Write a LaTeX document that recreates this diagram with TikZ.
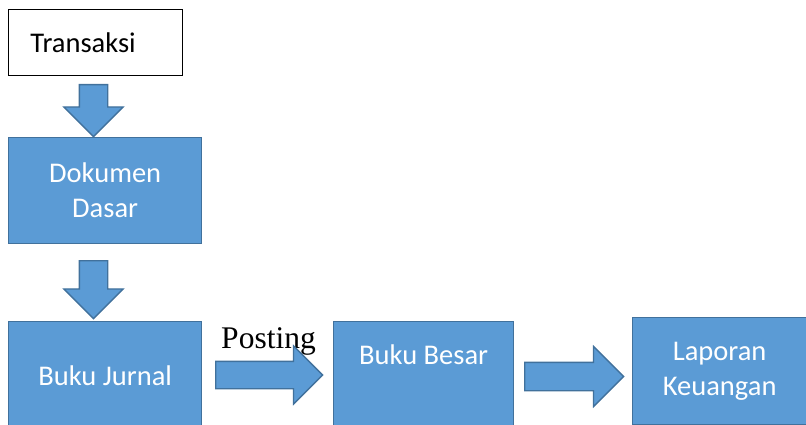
\documentclass[tikz,border=0pt]{standalone}
\usepackage{fontspec}
\setmainfont{Carlito}
\newfontfamily\timesfont{Liberation Serif}
\usetikzlibrary{shapes.arrows}
\definecolor{boxfill}{HTML}{5B9BD5}
\definecolor{boxline}{HTML}{41719C}

\begin{document}
\begin{tikzpicture}[x=1pt, y=-1pt,
    box/.style={rectangle, draw=boxline, fill=boxfill, line width=1.3pt, text=white, align=center, anchor=north west, inner sep=0pt, font=\fontsize{28.5}{35}\selectfont},
    blockarrow/.style={single arrow, draw=boxline, fill=boxfill, line width=1.3pt, inner xsep=0pt, inner ysep=13.5pt, minimum width=0pt, single arrow head extend=15.5pt, single arrow tip angle=90, anchor=tail},
    downarrow/.style={blockarrow, shape border rotate=270, inner xsep=13.5pt, inner ysep=0pt}]
  \useasboundingbox (0,0) rectangle (806,425);
  \node[draw, line width=0.9pt, anchor=north west, minimum width=174pt, minimum height=66pt, text width=130pt, inner xsep=22pt, align=left, font=\fontsize{28.5}{35}\selectfont] (trans) at (8,9) {Transaksi};
  \node[box, minimum width=193pt, minimum height=106pt] (dok) at (8,137) {Dokumen\\Dasar};
  \node[box, minimum width=193pt, minimum height=109pt] (jurnal) at (8,321) {Buku Jurnal};
  \node[box, minimum width=180pt, minimum height=109pt, text depth=43pt] (besar) at (333,321) {Buku Besar};
  \node[box, minimum width=174pt, minimum height=107pt] (lap) at (632,317) {Laporan\\Keuangan};
  \node[anchor=base, inner sep=0pt, font=\timesfont\fontsize{31.5}{36}\selectfont] (post) at (268.5,348) {Posting};
  \node[downarrow, minimum height=52pt] (a1) at (93.5,84) {};
  \node[downarrow, minimum height=58pt] (a2) at (93.5,260) {};
  \node[blockarrow, minimum height=107pt, inner ysep=13pt] (a3) at (215,375) {};
  \node[blockarrow, minimum height=99pt, single arrow head extend=16pt] (a4) at (524,376.5) {};
\end{tikzpicture}
\end{document}
